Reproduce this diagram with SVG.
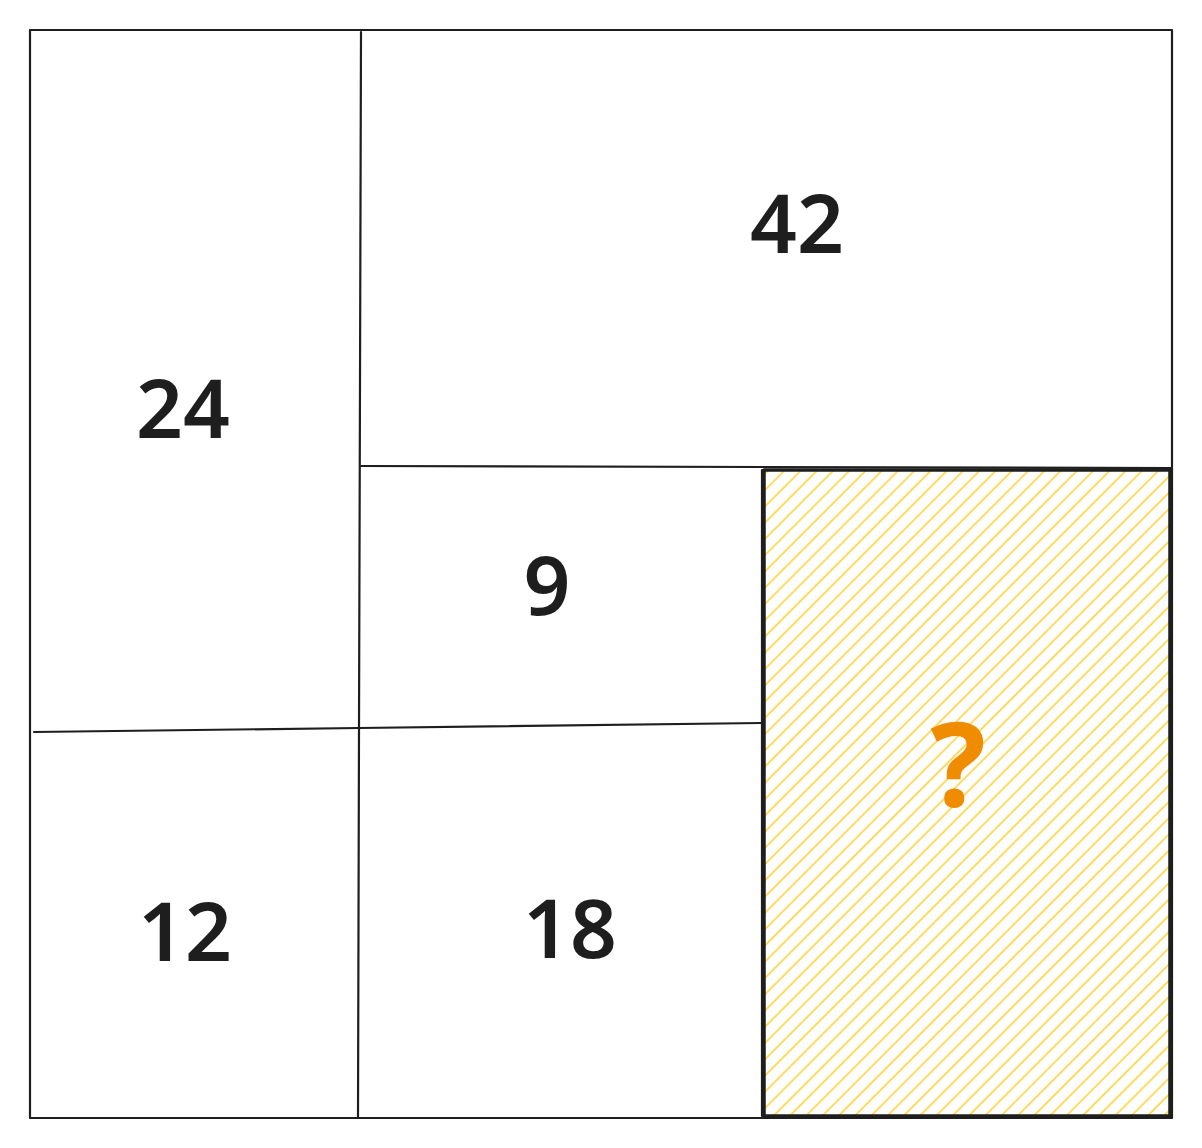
<svg xmlns="http://www.w3.org/2000/svg" width="1202" height="1148" viewBox="0 0 1202 1148">
<style>
.ln{fill:none;stroke:#1e1e1e;stroke-width:2.2;stroke-linecap:round;stroke-linejoin:round}
.num{font-family:"Noto Sans","Liberation Sans",sans-serif;font-weight:600;font-size:82px;fill:#1e1e1e;text-anchor:middle}
.q{font-family:"Noto Sans","Liberation Sans",sans-serif;font-weight:700;font-size:116px;fill:#f08c00;text-anchor:middle}
</style>
<defs>
<pattern id="hatch" patternUnits="userSpaceOnUse" width="11.5" height="20" patternTransform="rotate(45)">
<line x1="2" y1="0" x2="2" y2="20" stroke="#ffd43b" stroke-width="1.6"/>
</pattern>
</defs>
<rect width="1202" height="1148" fill="#ffffff"/>
<g id="frame">
<rect class="ln" x="30" y="30" width="1142" height="1088"/>
</g>
<g id="question-cell">
<rect x="765" y="470" width="405" height="646" fill="url(#hatch)"/>
<path class="ln" style="stroke-width:3.5" d="M764 470 L1170 470 L1170 1116 L764 1116 Z"/>
<text class="q" x="958" y="806">?</text>
</g>
<g id="connectors">
<path class="ln" d="M361 32 L359 729 L358 1118"/>
<path class="ln" d="M34 732 L359 728 L762 723"/>
<path class="ln" d="M361 466 L1172 468"/>
<path class="ln" d="M762 470 L762 1116"/>
</g>
<g id="cell-24"><text class="num" x="183" y="438">24</text></g>
<g id="cell-42"><text class="num" x="797" y="253">42</text></g>
<g id="cell-9"><text class="num" x="547" y="615">9</text></g>
<g id="cell-12"><text class="num" x="185" y="961">12</text></g>
<g id="cell-18"><text class="num" x="570" y="958">18</text></g>
</svg>
